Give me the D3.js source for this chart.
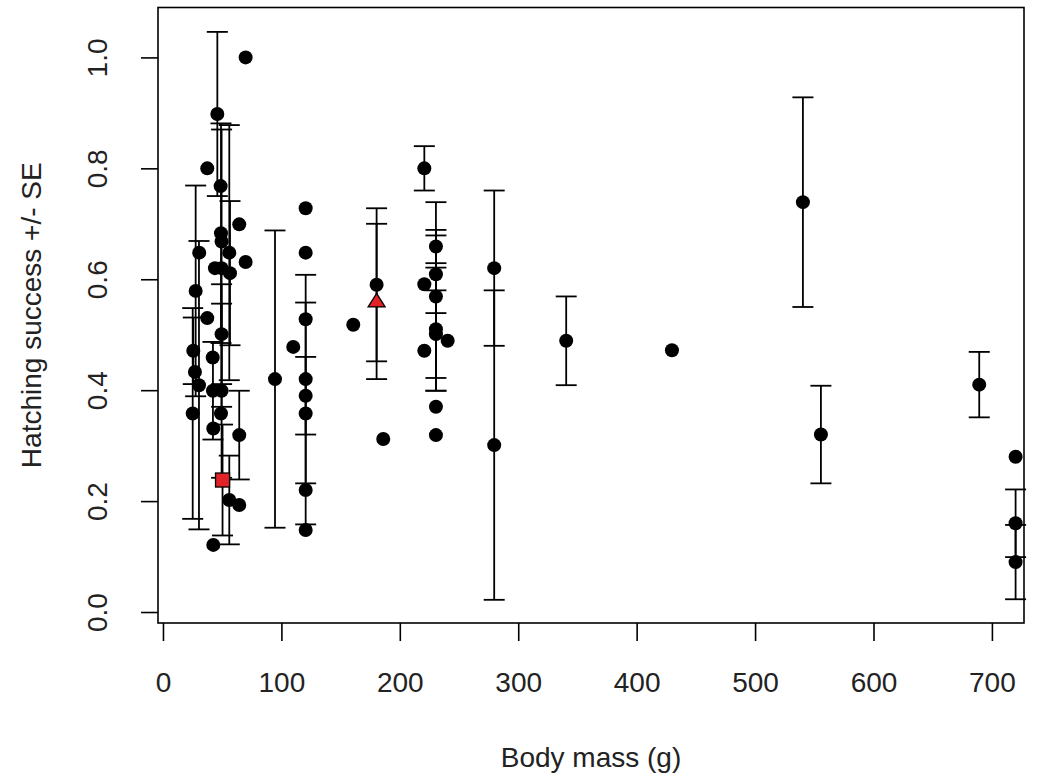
<!DOCTYPE html>
<html><head><meta charset="utf-8">
<script src="https://cdn.jsdelivr.net/npm/d3@7"></script>
<style>body{margin:0;background:#fff}</style></head>
<body><svg id="c" width="1037" height="778"></svg>
<script>
// Data: body mass (g), hatching success, SE (0 = no error bar)
const mass = [25.1,25.6,27.6,27.0,30.4,30.6,37.4,37.4,43.9,42.0,42.2,42.5,42.5,45.9,48.7,49.0,49.5,49.5,49.5,49.5,49.0,56.0,56.6,56.0,64.4,64.4,64.4,69.8,69.8,94.6,110,
  120.5,120.5,120.5,120.5,120.5,120.5,120.5,120.5,160.7,180.4,186,220.7,220.7,220.7,
  230.5,230.5,230.5,230.5,230.5,230.5,230.5,240.4,279.7,279.7,340.5,429.8,540.4,555.6,689.3,720,720,720];
const success = [0.358,0.471,0.579,0.433,0.409,0.648,0.800,0.530,0.620,0.459,0.399,0.331,0.121,0.898,0.768,0.683,0.668,0.620,0.501,0.399,0.358,0.648,0.611,0.202,0.699,0.319,0.193,1.000,0.631,0.420,0.478,
  0.728,0.648,0.528,0.420,0.390,0.358,0.220,0.148,0.518,0.590,0.312,0.800,0.591,0.471,
  0.659,0.609,0.569,0.510,0.501,0.370,0.319,0.489,0.620,0.301,0.489,0.472,0.739,0.320,0.410,0.280,0.160,0.090];
const se = [0.19,0.06,0.19,0,0.26,0,0,0,0,0,0.088,0,0,0.148,0,0.198,0,0.25,0.09,0.157,0,0.23,0.13,0.08,0,0.08,0,0,0,0.268,0,
  0,0,0,0.188,0.07,0.2,0,0,0,0.138,0,0.04,0,0,
  0.03,0.07,0.17,0.111,0.079,0,0,0,0.14,0.279,0.08,0,0.189,0.088,0.059,0,0.061,0.067];
// Highlighted species
const squareMass = [50.3], squareSuccess = [0.238], squareSE = [0.1];
const triMass = [180.4], triSuccess = [0.56], triSE = [0.14];
const xTicks = [0,100,200,300,400,500,600,700];
const yTicks = [0,0.2,0.4,0.6,0.8,1.0];
const xlim = [-4.2, 727.1], ylim = [-0.0198, 1.090];

const svg = d3.select("#c");
const L=158, R=1024, T=7.5, B=623;
const x = d3.scaleLinear().domain(xlim).range([L,R]);
const y = d3.scaleLinear().domain(ylim).range([B,T]);
const font = "'Liberation Sans', Arial, sans-serif";
const fs = 28;
const cap = 10.5;

// error bars
const bars = [];
mass.forEach((m,i)=>{ if(se[i]>0) bars.push([m,success[i],se[i]]); });
bars.push([squareMass[0],squareSuccess[0],squareSE[0]]);
bars.push([triMass[0],triSuccess[0],triSE[0]]);
const g = svg.append("g").attr("stroke","#000").attr("stroke-width",1.8).attr("fill","none");
bars.forEach(([m,v,s])=>{
  const px=x(m), y1=y(v+s), y2=y(v-s);
  g.append("line").attr("x1",px).attr("x2",px).attr("y1",y1).attr("y2",y2);
  g.append("line").attr("x1",px-cap).attr("x2",px+cap).attr("y1",y1).attr("y2",y1);
  g.append("line").attr("x1",px-cap).attr("x2",px+cap).attr("y1",y2).attr("y2",y2);
});

// points
svg.append("g").selectAll("circle").data(mass).join("circle")
  .attr("cx",d=>x(d)).attr("cy",(d,i)=>y(success[i])).attr("r",7).attr("fill","#000");
svg.append("g").selectAll("rect").data(squareMass).join("rect")
  .attr("x",d=>x(d)-7).attr("y",(d,i)=>y(squareSuccess[i])-7).attr("width",14).attr("height",14)
  .attr("fill","#e32227").attr("stroke","#000").attr("stroke-width",1.3);
svg.append("g").selectAll("path").data(triMass).join("path")
  .attr("d",(d,i)=>{const cx=x(d), cy=y(triSuccess[i]); return `M${cx},${cy-8} L${cx+8.5},${cy+5.5} L${cx-8.5},${cy+5.5} Z`;})
  .attr("fill","#e32227").attr("stroke","#000").attr("stroke-width",1.3);

// box
svg.append("rect").attr("x",L).attr("y",T).attr("width",R-L).attr("height",B-T)
  .attr("fill","none").attr("stroke","#000").attr("stroke-width",1.6);

// x axis
const xa = svg.append("g").attr("transform",`translate(0,${B})`)
  .call(d3.axisBottom(x).tickValues(xTicks).tickSize(18).tickFormat(d3.format("d")));
xa.select(".domain").remove();
xa.selectAll("line").attr("stroke","#000").attr("stroke-width",1.6);
xa.selectAll("text").attr("font-family",font).attr("font-size",fs).attr("fill","#222").attr("dy",0).attr("y",69);

// y axis
const ya = svg.append("g").attr("transform",`translate(${L},0)`)
  .call(d3.axisLeft(y).tickValues(yTicks).tickSize(17).tickFormat(d3.format(".1f")));
ya.select(".domain").remove();
ya.selectAll("line").attr("stroke","#000").attr("stroke-width",1.6);
ya.selectAll("text").attr("font-family",font).attr("font-size",fs).attr("fill","#222")
  .attr("x",null).attr("dy",null).attr("text-anchor","middle")
  .attr("transform","translate(-51,0) rotate(-90)").attr("y",0);

// titles
svg.append("text").attr("x",(L+R)/2).attr("y",767).attr("text-anchor","middle")
  .attr("font-family",font).attr("font-size",fs).attr("fill","#222").text("Body mass (g)");
svg.append("text").attr("transform",`translate(41,${(T+B)/2}) rotate(-90)`).attr("text-anchor","middle")
  .attr("font-family",font).attr("font-size",fs).attr("fill","#222").text("Hatching success +/- SE");
</script></body></html>
